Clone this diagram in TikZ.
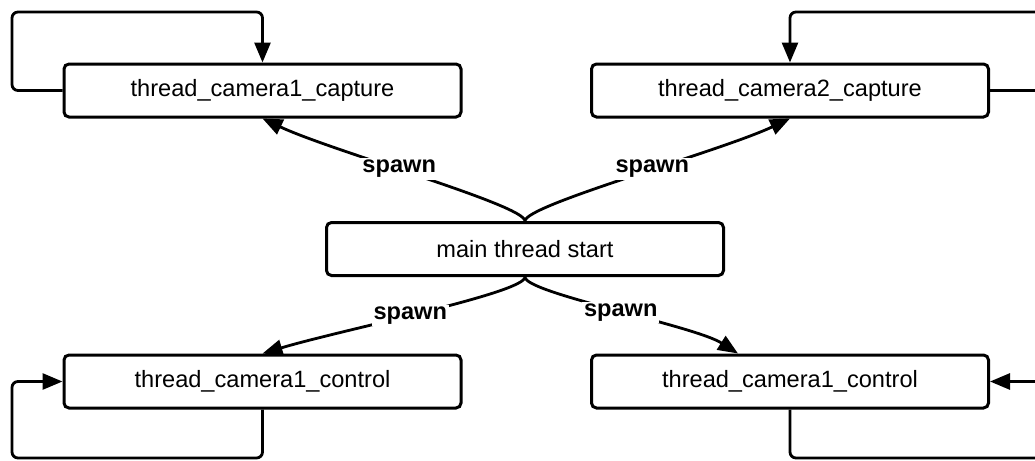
\documentclass[tikz,border=0pt]{standalone}
\usepackage{fontspec}
\setmainfont{Liberation Sans}
\usetikzlibrary{arrows.meta}
\begin{document}
\begin{tikzpicture}[x=0.5pt,y=-0.5pt,
  box/.style={draw, line width=1.5pt, rounded corners=2.5pt,
    minimum width=198.5pt, minimum height=26.5pt, inner sep=0pt,
    font=\fontsize{11.8}{14}\selectfont},
  flow/.style={draw, line width=1.4pt, -{Triangle[length=10pt,width=8pt]}},
  loopline/.style={flow, rounded corners=3pt},
  spawnlabel/.style={fill=white, inner sep=1pt,
    font=\bfseries\fontsize{11.8}{14}\selectfont}]
\clip (0,0) rectangle (1035,461);

% thread boxes
\node[box] (tl)   at (262.5,90.5)  {thread\_camera1\_capture};
\node[box] (tr)   at (790,90.5)    {thread\_camera2\_capture};
\node[box] (main) at (525,249)     {main thread start};
\node[box] (bl)   at (262.5,381.5) {thread\_camera1\_control};
\node[box] (br)   at (790,381.5)   {thread\_camera1\_control};

% corners of the self loops
\coordinate (tlc) at (12,12);
\coordinate (trc) at (1060,12);
\coordinate (blc) at (12,458);
\coordinate (brc) at (1060,458);
\coordinate (brin) at ([xshift=-26pt]br.north);

% self loops
\draw[loopline] (tl.west) -| (tlc) -| (tl.north);
\draw[loopline] (tr.east) -| (trc) -| (tr.north);
\draw[loopline] (bl.south) |- (blc) |- (bl.west);
\draw[loopline] (br.south) |- (brc) |- (br.east);

% spawn connectors
\draw[flow] (main.north) .. controls +(0,-16) and +(70,33) .. (tl.south)
  node[spawnlabel, pos=0.56] {spawn};
\draw[flow] (main.north) .. controls +(0,-16) and +(-70,33) .. (tr.south)
  node[spawnlabel, pos=0.56] {spawn};
\draw[flow] (main.south) .. controls +(0,16) and +(80,-24) .. (bl.north)
  node[spawnlabel, pos=0.54] {spawn};
\draw[flow] (main.south) .. controls +(0,16) and +(-44,-28) .. (brin)
  node[spawnlabel, pos=0.52] {spawn};
\end{tikzpicture}
\end{document}
